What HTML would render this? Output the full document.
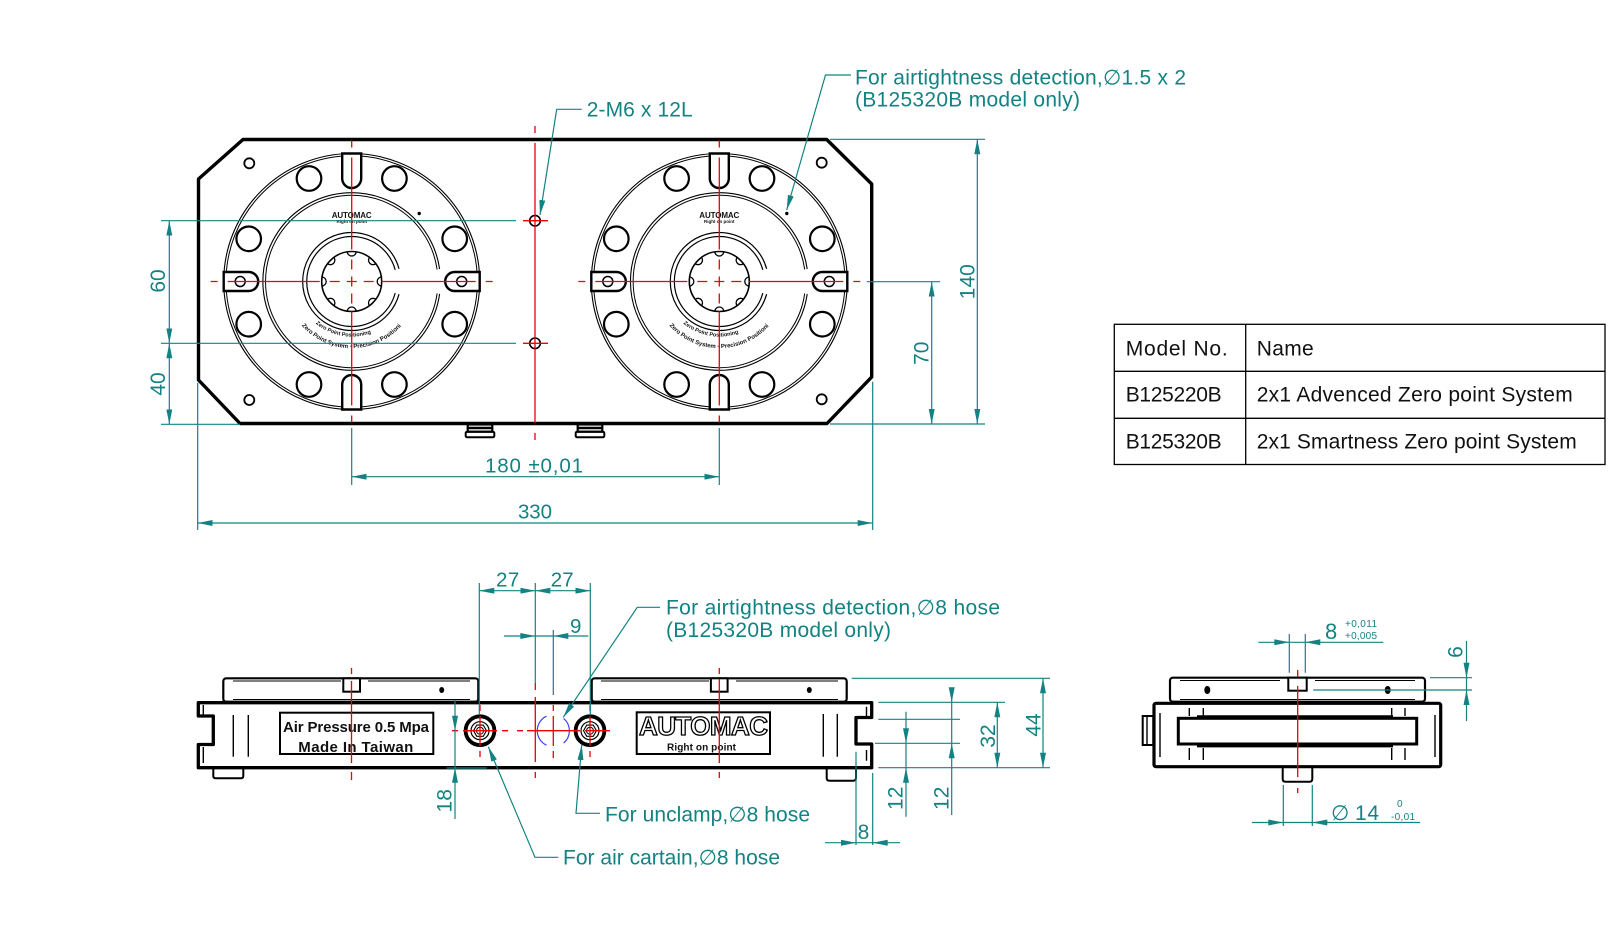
<!DOCTYPE html>
<html><head><meta charset="utf-8">
<style>
html,body{margin:0;padding:0;background:#fff;}
svg{display:block;}
.t{font-family:"Liberation Sans","DejaVu Sans",sans-serif;fill:#148282;}
.k{font-family:"Liberation Sans","DejaVu Sans",sans-serif;fill:#111;}
</style></head><body>
<svg width="1610" height="927" viewBox="0 0 1610 927" xmlns="http://www.w3.org/2000/svg">
<defs>
<marker id="ar" viewBox="0 0 15 6" refX="15" refY="3" markerWidth="15" markerHeight="6" orient="auto-start-reverse" markerUnits="userSpaceOnUse"><path d="M0,0L15,3L0,6z" fill="#148282"/></marker>
<path id="arcO" d="M-50,44A66.5 66.5 0 0 0 50,44"/>
<path id="arcI" d="M-36,42A56 56 0 0 0 36,42"/>
</defs>

<!-- ================= TOP VIEW ================= -->
<path d="M243,139.5H826.7L871.7,184V377L827,423.5H240L198.5,380V179Z" fill="none" stroke="#000" stroke-width="3.4" stroke-linejoin="round"/>
<g fill="none" stroke="#000" stroke-width="1.8">
<circle cx="249.3" cy="163.3" r="5"/><circle cx="249.3" cy="400" r="5"/>
<circle cx="821.7" cy="162.7" r="5"/><circle cx="821.7" cy="399.3" r="5"/>
<circle cx="535" cy="220.7" r="5.3" stroke-width="1.6"/><circle cx="535" cy="343.3" r="5.3" stroke-width="1.6"/>
</g>
<!-- feet under top view -->
<g fill="none" stroke="#000">
<rect x="467.7" y="424.5" width="24.6" height="7.2" stroke-width="2.2"/><line x1="467.7" y1="428" x2="492.3" y2="428" stroke-width="2.5"/>
<rect x="465.7" y="431.7" width="28.6" height="5.6" rx="1.5" stroke-width="2"/>
<rect x="577.7" y="424.5" width="24.6" height="7.2" stroke-width="2.2"/><line x1="577.7" y1="428" x2="602.3" y2="428" stroke-width="2.5"/>
<rect x="575.7" y="431.7" width="28.6" height="5.6" rx="1.5" stroke-width="2"/>
</g>

<!-- left disc -->
<g transform="translate(351.7 281.5)">
<g fill="none" stroke="#000">
<circle r="128" stroke-width="1.1"/><circle r="125.7" stroke-width="1"/>
<path d="M87.9,-12.4A88.8 88.8 0 1 0 87.9,12.4" stroke-width="1.1"/>
<path d="M85.4,-12A86.2 86.2 0 1 0 85.4,12" stroke-width="1"/>
<path d="M47.3,-12.7A49 49 0 1 0 47.3,12.7" stroke-width="1.2"/>
<path d="M43.5,-11.6A45 45 0 1 0 43.5,11.6" stroke-width="1.2"/>
<circle r="30" stroke-width="1.6"/>
<path stroke-width="1.3" d="M30,-4.5A4.5 4.5 0 0 0 30,4.5M24.39,18.03A4.5 4.5 0 0 0 18.03,24.39M4.5,30A4.5 4.5 0 0 0 -4.5,30M-18.03,24.39A4.5 4.5 0 0 0 -24.39,18.03M-30,4.5A4.5 4.5 0 0 0 -30,-4.5M-24.39,-18.03A4.5 4.5 0 0 0 -18.03,-24.39M-4.5,-30A4.5 4.5 0 0 0 4.5,-30M18.03,-24.39A4.5 4.5 0 0 0 24.39,-18.03"/>
<g stroke-width="2.2"><circle cx="103" cy="42.7" r="12.3"/><circle cx="103" cy="-42.7" r="12.3"/><circle cx="-103" cy="42.7" r="12.3"/><circle cx="-103" cy="-42.7" r="12.3"/><circle cx="42.7" cy="103" r="12.3"/><circle cx="-42.7" cy="103" r="12.3"/><circle cx="42.7" cy="-103" r="12.3"/><circle cx="-42.7" cy="-103" r="12.3"/></g>
<g stroke-width="2.4" fill="#fff">
<path d="M-9.5,-128V-103A9.5 9.5 0 0 0 9.5,-103V-128Z"/>
<path d="M-9.5,128V103A9.5 9.5 0 0 1 9.5,103V128Z"/>
<path d="M-128,-9.5H-103A9.5 9.5 0 0 1 -103,9.5H-128Z"/>
<path d="M128,-9.5H103A9.5 9.5 0 0 0 103,9.5H128Z"/>
</g>
<circle cx="-111.5" r="5" stroke-width="1.5"/><circle cx="110" r="5" stroke-width="1.5"/>
</g>
<circle cx="67.5" cy="-68" r="1.7" fill="#000"/>
<text class="k" x="0" y="-63.5" font-size="8" font-weight="bold" text-anchor="middle" textLength="40">AUTOMAC</text>
<text class="k" x="0" y="-58.5" font-size="4.5" font-weight="bold" text-anchor="middle">Right on point</text>
<text class="k" font-size="6" font-weight="bold"><textPath href="#arcO">Zero Point System · Precision Positioning · Taiwan</textPath></text>
<text class="k" font-size="5.5" font-weight="bold"><textPath href="#arcI">Zero Point Positioning</textPath></text>
<g stroke="#e00" stroke-width="1.3">
<path d="M-141,0H-134M-124,0H-32M-22,0H-12M-5,0H5M12,0H22M30,0H124M134,0H141"/>
<path d="M0,-141V-134M0,-124V-32M0,-22V-12M0,-5V5M0,12V22M0,30V124M0,134V141"/>
</g>
</g>

<!-- right disc -->
<g transform="translate(719.3 281.5)">
<g fill="none" stroke="#000">
<circle r="128" stroke-width="1.1"/><circle r="125.7" stroke-width="1"/>
<path d="M87.9,-12.4A88.8 88.8 0 1 0 87.9,12.4" stroke-width="1.1"/>
<path d="M85.4,-12A86.2 86.2 0 1 0 85.4,12" stroke-width="1"/>
<path d="M47.3,-12.7A49 49 0 1 0 47.3,12.7" stroke-width="1.2"/>
<path d="M43.5,-11.6A45 45 0 1 0 43.5,11.6" stroke-width="1.2"/>
<circle r="30" stroke-width="1.6"/>
<path stroke-width="1.3" d="M30,-4.5A4.5 4.5 0 0 0 30,4.5M24.39,18.03A4.5 4.5 0 0 0 18.03,24.39M4.5,30A4.5 4.5 0 0 0 -4.5,30M-18.03,24.39A4.5 4.5 0 0 0 -24.39,18.03M-30,4.5A4.5 4.5 0 0 0 -30,-4.5M-24.39,-18.03A4.5 4.5 0 0 0 -18.03,-24.39M-4.5,-30A4.5 4.5 0 0 0 4.5,-30M18.03,-24.39A4.5 4.5 0 0 0 24.39,-18.03"/>
<g stroke-width="2.2"><circle cx="103" cy="42.7" r="12.3"/><circle cx="103" cy="-42.7" r="12.3"/><circle cx="-103" cy="42.7" r="12.3"/><circle cx="-103" cy="-42.7" r="12.3"/><circle cx="42.7" cy="103" r="12.3"/><circle cx="-42.7" cy="103" r="12.3"/><circle cx="42.7" cy="-103" r="12.3"/><circle cx="-42.7" cy="-103" r="12.3"/></g>
<g stroke-width="2.4" fill="#fff">
<path d="M-9.5,-128V-103A9.5 9.5 0 0 0 9.5,-103V-128Z"/>
<path d="M-9.5,128V103A9.5 9.5 0 0 1 9.5,103V128Z"/>
<path d="M-128,-9.5H-103A9.5 9.5 0 0 1 -103,9.5H-128Z"/>
<path d="M128,-9.5H103A9.5 9.5 0 0 0 103,9.5H128Z"/>
</g>
<circle cx="-111.5" r="5" stroke-width="1.5"/><circle cx="110" r="5" stroke-width="1.5"/>
</g>
<circle cx="67.5" cy="-68" r="1.7" fill="#000"/>
<text class="k" x="0" y="-63.5" font-size="8" font-weight="bold" text-anchor="middle" textLength="40">AUTOMAC</text>
<text class="k" x="0" y="-58.5" font-size="4.5" font-weight="bold" text-anchor="middle">Right on point</text>
<text class="k" font-size="6" font-weight="bold"><textPath href="#arcO">Zero Point System · Precision Positioning · Taiwan</textPath></text>
<text class="k" font-size="5.5" font-weight="bold"><textPath href="#arcI">Zero Point Positioning</textPath></text>
<g stroke="#e00" stroke-width="1.3">
<path d="M-141,0H-134M-124,0H-32M-22,0H-12M-5,0H5M12,0H22M30,0H124M134,0H141"/>
<path d="M0,-141V-134M0,-124V-32M0,-22V-12M0,-5V5M0,12V22M0,30V124M0,134V141"/>
</g>
</g>

<!-- middle red centerline & crosses -->
<g stroke="#e00" stroke-width="1.3">
<path d="M535,126V133M535,143V423M535,433V440"/>
<path d="M523,220.7H548M523,343.3H548"/>
</g>

<!-- top view dimensions -->
<g stroke="#148282" stroke-width="1.2" fill="none">
<path d="M161,220.7H516M161,343.3H516M161,424.3H240"/>
<line x1="169.3" y1="220.7" x2="169.3" y2="343.3" marker-start="url(#ar)" marker-end="url(#ar)"/>
<line x1="169.3" y1="343.3" x2="169.3" y2="424.3" marker-start="url(#ar)" marker-end="url(#ar)"/>
<path d="M197.7,382.7V530M872.7,381.7V530"/>
<line x1="197.7" y1="523" x2="872.7" y2="523" marker-start="url(#ar)" marker-end="url(#ar)"/>
<path d="M351.7,428V485M719.3,428V485"/>
<line x1="351.7" y1="476.7" x2="719.3" y2="476.7" marker-start="url(#ar)" marker-end="url(#ar)"/>
<path d="M830,139.3H985M830,424H985M866.7,281.7H940"/>
<line x1="977.3" y1="139.3" x2="977.3" y2="424" marker-start="url(#ar)" marker-end="url(#ar)"/>
<line x1="931.7" y1="281.7" x2="931.7" y2="424" marker-start="url(#ar)" marker-end="url(#ar)"/>
<polyline points="581.7,109.3 556.7,109.3 540,215" marker-end="url(#ar)"/>
<polyline points="851,75 825.5,75 786.7,210" marker-end="url(#ar)"/>
</g>
<g class="t">
<text x="586.7" y="116.5" font-size="21" textLength="106">2-M6 x 12L</text>
<text x="855" y="84.5" font-size="21" textLength="331">For airtightness detection,∅1.5 x 2</text>
<text x="855" y="106.5" font-size="21" textLength="225">(B125320B model only)</text>
<text x="485" y="472.5" font-size="20.5" textLength="98">180  ±0,01</text>
<text x="518" y="518.5" font-size="20.5" textLength="34">330</text>
<text transform="translate(157.5 281) rotate(-90)" x="0" y="7.5" font-size="21" text-anchor="middle">60</text>
<text transform="translate(157.5 384) rotate(-90)" x="0" y="7.5" font-size="21" text-anchor="middle">40</text>
<text transform="translate(920.8 353.3) rotate(-90)" x="0" y="7.5" font-size="21" text-anchor="middle">70</text>
<text transform="translate(967 281.7) rotate(-90)" x="0" y="7.5" font-size="21" text-anchor="middle">140</text>
</g>

<!-- ================= FRONT VIEW ================= -->
<g fill="#fff" stroke="#000">
<rect x="223.3" y="678.3" width="255" height="23.4" rx="3" stroke-width="2.2"/>
<rect x="591.7" y="678.3" width="255" height="23.4" rx="3" stroke-width="2.2"/>
<rect x="343.3" y="678.3" width="16.7" height="13.4" stroke-width="2"/>
<rect x="710.9" y="678.3" width="16.7" height="13.4" stroke-width="2"/>
</g>
<g fill="none" stroke="#000" stroke-width="1">
<path d="M233,681H341M368,681H470M233,699.5H470"/>
<path d="M601,681H709M736,681H838M601,699.5H838"/>
</g>
<ellipse cx="441.7" cy="690" rx="2.5" ry="3" fill="#000"/>
<ellipse cx="809.3" cy="690" rx="2.5" ry="3" fill="#000"/>
<path d="M198.3,702.7H871.7V717.5H856V744H871.7V767.7H198.3V744.5H213.3V716H198.3Z" fill="none" stroke="#000" stroke-width="3.3" stroke-linejoin="round"/>
<g fill="none" stroke="#000" stroke-width="1.4">
<path d="M233.3,715V756.7M248.3,715V756.7M823.3,714V756.7M837.3,714V756.7"/>
<path d="M203.3,705V716M203.3,747V763M866.5,706.7V717.3M866.5,750V760.7"/>
<path d="M213.3,767.7V776Q213.3,778.3 216,778.3H240.5Q243.3,778.3 243.3,776V767.7" stroke-width="2"/>
<path d="M826.7,767.7V778Q826.7,780.7 829.5,780.7H853Q856,780.7 856,778V767.7" stroke-width="2"/>
<rect x="280" y="712.7" width="153.3" height="41.3" stroke-width="2"/>
<rect x="636.7" y="712.3" width="133.3" height="41.7" stroke-width="2"/>
</g>
<text class="k" x="283" y="732" font-size="15" font-weight="bold" textLength="146">Air Pressure 0.5 Mpa</text>
<text class="k" x="298.3" y="752" font-size="15" font-weight="bold" textLength="115">Made In Taiwan</text>
<text x="639" y="735" font-family="Liberation Sans, sans-serif" font-size="26" font-weight="bold" fill="#fff" stroke="#000" stroke-width="1.3" textLength="129">AUTOMAC</text>
<text class="k" x="667" y="750.5" font-size="10" font-weight="bold" textLength="69">Right on point</text>

<!-- ports -->
<g fill="none" stroke="#000">
<g transform="translate(480 730.7)"><circle r="14.4" stroke-width="3.8"/><circle r="9" stroke-width="1.2"/><polygon points="6.5,0 3.25,5.6 -3.25,5.6 -6.5,0 -3.25,-5.6 3.25,-5.6" stroke-width="1.1"/><circle r="3.5" stroke-width="1"/></g>
<g transform="translate(590 730.7)"><circle r="14.4" stroke-width="3.8"/><circle r="9" stroke-width="1.2"/><polygon points="6.5,0 3.25,5.6 -3.25,5.6 -6.5,0 -3.25,-5.6 3.25,-5.6" stroke-width="1.1"/><circle r="3.5" stroke-width="1"/></g>
</g>
<g fill="none" stroke="#3a40ff" stroke-width="1.2">
<path d="M546.5,716.2A16 16 0 0 0 546.5,745.2"/>
<path d="M563.6,718.4A16 16 0 0 1 563.6,743"/>
</g>
<g stroke="#e00" stroke-width="1.3" fill="none">
<path d="M351.5,668V674M351.5,681V763M351.5,772V780"/>
<path d="M719.3,668V674M719.3,679V763M719.3,772V778"/>
<path d="M535.3,683V690M535.3,697V762M535.3,772V778"/>
<path d="M452,730.7H458M463,730.7H497M502,730.7H508M480,705V711M480,716V746M480,751V757"/>
<path d="M517,730.7H523M527,730.7H580M585,730.7H610M553.3,705V711M553.3,716V746M553.3,751V758"/>
<path d="M590,705V711M590,716V746M590,751V757"/>
</g>

<!-- front dims -->
<g stroke="#148282" stroke-width="1.2" fill="none">
<path d="M479.3,583V715M535.3,583V683M590.3,583V715M553.3,630V695"/>
<line x1="479.3" y1="590.7" x2="535.3" y2="590.7" marker-start="url(#ar)" marker-end="url(#ar)"/>
<line x1="535.3" y1="590.7" x2="590.3" y2="590.7" marker-start="url(#ar)" marker-end="url(#ar)"/>
<path d="M504,636H588.3"/>
<polyline points="660,607.3 637.3,607.3 563.3,717.3" marker-end="url(#ar)"/>
<polyline points="600,813.3 576,813.3 581.7,745" marker-end="url(#ar)"/>
<polyline points="558.3,857.3 535,857.3 488.3,746.7" marker-end="url(#ar)"/>
<path d="M455,700V819M446.7,768H486.7"/>
<path d="M851.7,678.3H1050M878.3,702.3H1005M878.3,719.3H960M875,743.3H960M878.3,767.7H1050"/>
<line x1="997.3" y1="702.3" x2="997.3" y2="767.7" marker-start="url(#ar)" marker-end="url(#ar)"/>
<line x1="1043" y1="678.3" x2="1043" y2="767.7" marker-start="url(#ar)" marker-end="url(#ar)"/>
<path d="M906,711.7V816.7M951.7,688.3V815"/>
<path d="M856,751.7V845M872.7,773V845M825,842.7H900"/>
</g>
<g fill="#148282">
<polygon points="520.3,633 535.3,636 520.3,639"/><polygon points="568.3,633 553.3,636 568.3,639"/>
<polygon points="452,715.7 455,730.7 458,715.7"/><polygon points="452,782.7 455,767.7 458,782.7"/>
<polygon points="903,728.3 906,743.3 909,728.3"/><polygon points="903,782.7 906,767.7 909,782.7"/>
<polygon points="948.7,687.3 951.7,702.3 954.7,687.3"/><polygon points="948.7,758.3 951.7,743.3 954.7,758.3"/>
<polygon points="841,839.7 856,842.7 841,845.7"/><polygon points="887.7,839.7 872.7,842.7 887.7,845.7"/>
</g>
<g class="t">
<text x="496" y="586.5" font-size="20.5" textLength="23.3">27</text>
<text x="550.7" y="586.5" font-size="20.5" textLength="23">27</text>
<text x="570" y="633" font-size="20.5">9</text>
<text x="666" y="614.5" font-size="21" textLength="334">For airtightness detection,∅8 hose</text>
<text x="666" y="637" font-size="21" textLength="225">(B125320B model only)</text>
<text x="605" y="821.5" font-size="21" textLength="205">For unclamp,∅8 hose</text>
<text x="563" y="864.5" font-size="21" textLength="217">For air cartain,∅8 hose</text>
<text x="863.5" y="839" font-size="21" text-anchor="middle">8</text>
<text transform="translate(444.2 800.8) rotate(-90)" x="0" y="7.5" font-size="21" text-anchor="middle">18</text>
<text transform="translate(987.5 736) rotate(-90)" x="0" y="7.5" font-size="21" text-anchor="middle">32</text>
<text transform="translate(1033 725) rotate(-90)" x="0" y="7.5" font-size="21" text-anchor="middle">44</text>
<text transform="translate(895 798.3) rotate(-90)" x="0" y="7.5" font-size="21" text-anchor="middle">12</text>
<text transform="translate(940.8 798.3) rotate(-90)" x="0" y="7.5" font-size="21" text-anchor="middle">12</text>
</g>

<!-- ================= SIDE VIEW ================= -->
<rect x="1170" y="677.7" width="255" height="24" rx="3" fill="#fff" stroke="#000" stroke-width="2.2"/>
<path d="M1180,680.5H1280M1315,680.5H1415M1180,699.5H1415" stroke="#000" stroke-width="1" fill="none"/>
<rect x="1288.3" y="677.7" width="18.4" height="13" fill="#fff" stroke="#000" stroke-width="2"/>
<ellipse cx="1207.3" cy="690" rx="3" ry="4" fill="#000"/>
<ellipse cx="1387.7" cy="690" rx="3" ry="4" fill="#000"/>
<rect x="1154" y="703.3" width="286.7" height="63.4" rx="2" fill="none" stroke="#000" stroke-width="3.2"/>
<rect x="1178.3" y="718.3" width="238.4" height="25.7" fill="none" stroke="#000" stroke-width="3"/>
<path d="M1197,716.3H1393M1197,746.3H1393" stroke="#000" stroke-width="2.2" fill="none"/>
<g stroke="#000" stroke-width="1.4" fill="none">
<path d="M1160,713V757M1435,715V757"/>
<path d="M1189.3,708V716M1203.3,708V716M1189.3,748V760M1203.3,748V760M1391.7,708V716M1405,708V716M1391.7,748V760M1405,748V760"/>
<rect x="1142.7" y="716" width="10.6" height="29" stroke-width="2"/>
<path d="M1147,717V744"/>
<path d="M1282.7,767.7V779Q1282.7,781.7 1285.5,781.7H1309.5Q1312.3,781.7 1312.3,779V767.7" stroke-width="2"/>
</g>
<path d="M1297.7,670V677M1297.7,686V777M1297.7,788V793" stroke="#e00" stroke-width="1.3"/>
<g stroke="#148282" stroke-width="1.2" fill="none">
<path d="M1289.3,634V672.7M1305.3,634V672.7M1258.3,642.3H1383.3"/>
<path d="M1430,677.7H1472M1313.3,690H1472M1466.5,641V721"/>
<path d="M1283.3,785V826M1312.3,785V826M1252,822.5H1420"/>
</g>
<g fill="#148282">
<polygon points="1274.3,639.3 1289.3,642.3 1274.3,645.3"/><polygon points="1320.3,639.3 1305.3,642.3 1320.3,645.3"/>
<polygon points="1463.5,662.7 1466.5,677.7 1469.5,662.7"/><polygon points="1463.5,705 1466.5,690 1469.5,705"/>
<polygon points="1268.3,819.5 1283.3,822.5 1268.3,825.5"/><polygon points="1327.3,819.5 1312.3,822.5 1327.3,825.5"/>
</g>
<g class="t">
<text x="1325" y="639" font-size="22">8</text>
<text x="1345" y="627" font-size="10" textLength="32">+0,011</text>
<text x="1345" y="639" font-size="10" textLength="32">+0,005</text>
<text transform="translate(1455 652) rotate(-90)" x="0" y="7.5" font-size="21" text-anchor="middle">6</text>
<text x="1331" y="820" font-size="21">∅</text>
<text x="1355" y="820" font-size="21" textLength="24">14</text>
<text x="1397" y="807" font-size="10">0</text>
<text x="1391" y="820" font-size="10" textLength="24">-0,01</text>
</g>

<!-- ================= TABLE ================= -->
<g stroke="#000" stroke-width="1.3" fill="none">
<rect x="1114.3" y="324.3" width="490.7" height="140.2"/>
<path d="M1245.7,324.3V464.5M1114.3,371.3H1605M1114.3,418.3H1605"/>
</g>
<g class="k" font-size="21">
<text x="1125.7" y="355.7" textLength="102">Model No.</text>
<text x="1256.7" y="355.7" textLength="57">Name</text>
<text x="1125.7" y="401.7" textLength="96">B125220B</text>
<text x="1256.7" y="401.7" textLength="316">2x1 Advenced Zero point System</text>
<text x="1125.7" y="448.3" textLength="96">B125320B</text>
<text x="1256.7" y="448.3" textLength="320">2x1 Smartness Zero point System</text>
</g>
</svg>
</body></html>
